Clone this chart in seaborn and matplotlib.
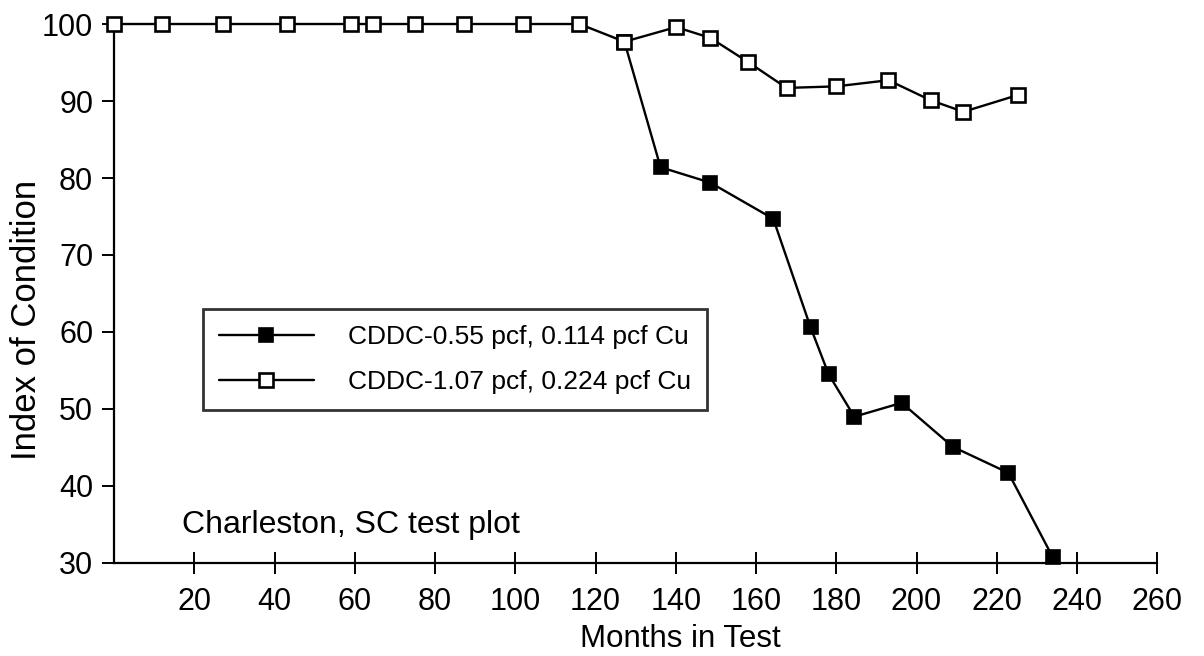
import matplotlib
matplotlib.use("Agg")
import matplotlib.pyplot as plt
import seaborn as sns

# Charleston, SC test plot - index of condition vs months in test
months_low = [127.2, 136.2, 148.6, 164.3, 173.6, 178.1, 184.5, 196.3, 209.0, 222.9, 233.9]
cond_low = [97.7, 81.4, 79.4, 74.7, 60.6, 54.5, 49.0, 50.8, 45.1, 41.7, 30.8]

months_high = [0, 12.0, 27.2, 43.1, 59.1, 64.6, 75.1, 87.3, 102.0, 116.0,
               127.2, 140.1, 148.6, 157.9, 167.6, 180.0, 193.0, 203.5, 211.7, 225.4]
cond_high = [100, 100, 100, 100, 100, 100, 100, 100, 100, 100,
             97.7, 99.6, 98.2, 95.1, 91.7, 91.9, 92.7, 90.1, 88.6, 90.8]

label_low = "CDDC-0.55 pcf, 0.114 pcf Cu"
label_high = "CDDC-1.07 pcf, 0.224 pcf Cu"
xticks = list(range(20, 261, 20))
yticks = list(range(30, 101, 10))

sns.set_style("ticks")
plt.rcParams['font.family'] = ['Liberation Sans', 'DejaVu Sans']
plt.rcParams['text.color'] = 'black'
plt.rcParams['axes.labelcolor'] = 'black'

fig = plt.figure(figsize=(12.04, 6.56), dpi=100)
ax = fig.add_axes([0.0947, 0.1418, 0.8665, 0.8216])

sns.lineplot(x=months_low, y=cond_low, ax=ax, color="black", lw=1.7,
             marker="s", markersize=10, markerfacecolor="black",
             markeredgecolor="black", markeredgewidth=1.2,
             label=label_low, zorder=2, clip_on=False)
sns.lineplot(x=months_high, y=cond_high, ax=ax, color="black", lw=1.7,
             marker="s", markersize=10.5, markerfacecolor="white",
             markeredgecolor="black", markeredgewidth=1.9,
             label=label_high, zorder=3, clip_on=False)

ax.set_xlim(0, 260)
ax.set_ylim(30, 100)
ax.set_xticks(xticks)
ax.set_yticks(yticks)
sns.despine(ax=ax)
for s in ["left", "bottom"]:
    ax.spines[s].set_linewidth(1.6)
    ax.spines[s].set_color("black")

ax.tick_params(axis="x", direction="inout", length=16, width=1.4, pad=9,
               labelsize=22, colors="black")
ax.tick_params(axis="y", direction="out", length=9, width=1.4, pad=6,
               labelsize=22, colors="black")

ax.set_xlabel("Months in Test", fontsize=22.5)
ax.set_ylabel("Index of Condition", fontsize=25)
ax.xaxis.set_label_coords(0.543, -0.113)
ax.yaxis.set_label_coords(-0.068, 0.451)

ax.text(17, 33.9, "Charleston, SC test plot", fontsize=23, ha="left", va="baseline")

leg = ax.legend(loc="upper left", bbox_to_anchor=(0.0853, 0.471), fontsize=19,
                frameon=True, fancybox=False, shadow=False, handlelength=3.6,
                handletextpad=1.3, borderpad=0.6, labelspacing=0.8,
                borderaxespad=0)
leg.get_frame().set_edgecolor("black")
leg.get_frame().set_linewidth(2)
for t in leg.get_texts():
    t.set_color("black")

fig.savefig("out.png", dpi=100)
